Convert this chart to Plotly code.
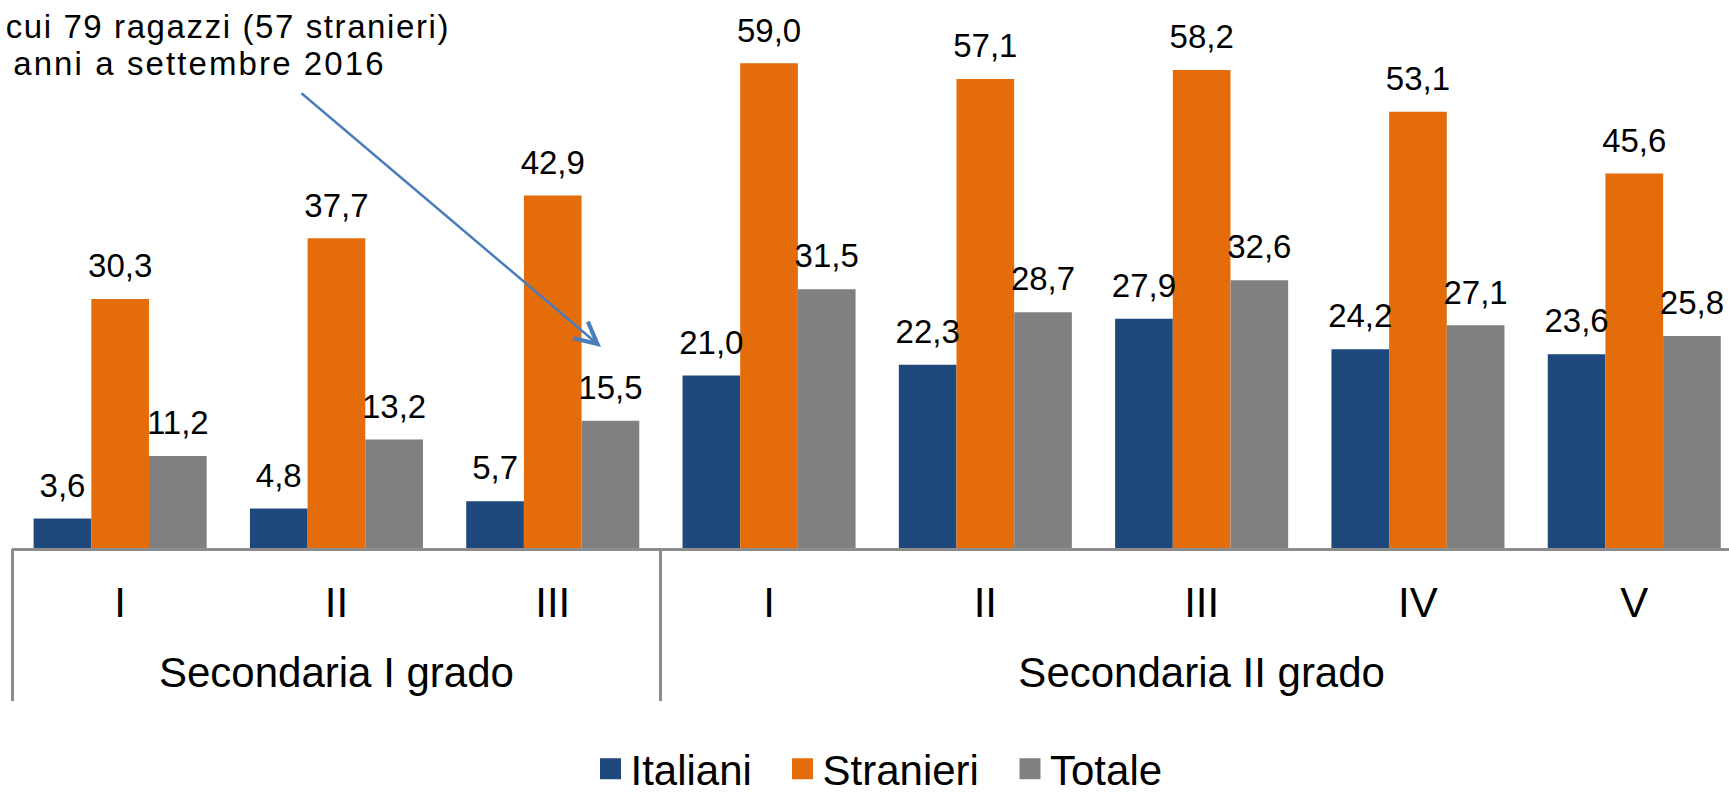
import plotly.graph_objects as go

gradi = ["Secondaria I grado", "Secondaria II grado"]
classi_per_grado = [["I", "II", "III"], ["I", "II", "III", "IV", "V"]]
classi = [c for gruppo in classi_per_grado for c in gruppo]

italiani = [3.6, 4.8, 5.7, 21.0, 22.3, 27.9, 24.2, 23.6]
stranieri = [30.3, 37.7, 42.9, 59.0, 57.1, 58.2, 53.1, 45.6]
totale = [11.2, 13.2, 15.5, 31.5, 28.7, 32.6, 27.1, 25.8]

serie = [("Italiani", italiani, "#1F497D"),
         ("Stranieri", stranieri, "#E46C0A"),
         ("Totale", totale, "#808080")]

nota_riga1 = "di cui 79 ragazzi (57 stranieri)"
nota_riga2 = "16 anni a settembre 2016"

FONT = "Liberation Sans, Arial, sans-serif"
GRIGIO = "#8C8C8C"

# category positions and group centres / boundaries derived from the lists
posizioni = list(range(len(classi)))
centri, confini, inizio = [], [], 0
for gruppo in classi_per_grado:
    confini.append(inizio - 0.5)
    centri.append(inizio + (len(gruppo) - 1) / 2)
    inizio += len(gruppo)

W, H = 1729, 793
L, B = 12, 245
plot_h = H - B
plot_w = W - L

fig = go.Figure()
for nome, valori, colore in serie:
    fig.add_trace(go.Bar(
        name=nome, x=posizioni, y=valori,
        marker=dict(color=colore, line=dict(width=0)),
        showlegend=False, hoverinfo="y",
    ))
for nome, valori, colore in serie:
    fig.add_trace(go.Scatter(
        name=nome, x=posizioni, y=valori, mode="markers+text",
        offsetgroup=nome, alignmentgroup="etichette",
        marker=dict(size=20, opacity=0, color=colore),
        text=[f"{v:.1f}".replace(".", ",") for v in valori],
        textposition="top center",
        textfont=dict(family=FONT, size=33, color="black"),
        cliponaxis=False, showlegend=False, hoverinfo="skip",
    ))
# legend entries (one legend each, placed like the original)
legend_ids = ["legend", "legend2", "legend3"]
legend_axes = ["x2", "x2", "x3"]
for (nome, valori, colore), lid, ax in zip(serie, legend_ids, legend_axes):
    fig.add_trace(go.Scatter(
        name=nome, x=[None], y=[None], mode="markers", xaxis=ax,
        marker=dict(symbol="square", size=16, color=colore,
                    line=dict(width=5, color=colore)),
        showlegend=True, legend=lid, hoverinfo="skip",
    ))

rng = [-0.5, -0.5 + plot_w / 216.3]

leg_y = -(769 - plot_h) / plot_h
leg_common = dict(orientation="h", xanchor="left", y=leg_y, yanchor="middle",
                  font=dict(family=FONT, size=42, color="black"),
                  bgcolor="rgba(0,0,0,0)", borderwidth=0)
leg_x = [590.5, 782.5, 1010.0]

fig.update_layout(
    width=W, height=H,
    margin=dict(l=L, r=0, t=0, b=B, pad=0, autoexpand=False),
    paper_bgcolor="white", plot_bgcolor="white",
    barmode="group", bargap=0.2, bargroupgap=0,
    scattermode="group", scattergap=0.2,
    font=dict(family=FONT, color="black"),
    legend=dict(x=(leg_x[0] - L) / plot_w, **leg_common),
    legend2=dict(x=(leg_x[1] - L) / plot_w, **leg_common),
    legend3=dict(x=(leg_x[2] - L) / plot_w, **leg_common),
    xaxis=dict(range=rng, tickmode="array", tickvals=posizioni, ticktext=classi,
               showline=True, linecolor=GRIGIO, linewidth=3,
               showgrid=False, zeroline=False, ticks="", ticklabelstandoff=16,
               tickfont=dict(family=FONT, size=42, color="black")),
    xaxis2=dict(range=rng, overlaying="x", anchor="y", side="bottom",
                tickmode="array", tickvals=centri, ticktext=gradi,
                showline=False, showgrid=False, zeroline=False, ticks="",
                ticklabelstandoff=96,
                tickfont=dict(family=FONT, size=42, color="black")),
    xaxis3=dict(range=rng, overlaying="x", anchor="y", side="bottom",
                tickmode="array", tickvals=confini, showticklabels=False,
                showline=False, showgrid=False, zeroline=False,
                ticks="outside", ticklen=152, tickwidth=3, tickcolor=GRIGIO),
    yaxis=dict(range=[0, plot_h / 8.215], visible=False, showgrid=False,
               zeroline=False),
)

fig.add_annotation(xref="paper", yref="paper", x=(452 - L) / plot_w, xanchor="right",
                   y=1 - 26.5 / plot_h, yanchor="middle",
                   text=f"<span style='letter-spacing:1.6px'>{nota_riga1}</span>",
                   showarrow=False, font=dict(family=FONT, size=33, color="black"))
fig.add_annotation(xref="paper", yref="paper", x=(388 - L) / plot_w, xanchor="right",
                   y=1 - 63.3 / plot_h, yanchor="middle",
                   text=f"<span style='letter-spacing:2.1px'>{nota_riga2}</span>",
                   showarrow=False, font=dict(family=FONT, size=33, color="black"))
fig.add_annotation(xref="paper", yref="paper", x=(601 - L) / plot_w, y=1 - 347 / plot_h,
                   ax=-301, ay=-255, text="", showarrow=True,
                   arrowhead=5, arrowsize=1.7, arrowwidth=2.5, arrowcolor="#4A7EBB")

fig.write_html("out.html", config={"displayModeBar": False},
               post_script="document.body.style.margin='0';")
